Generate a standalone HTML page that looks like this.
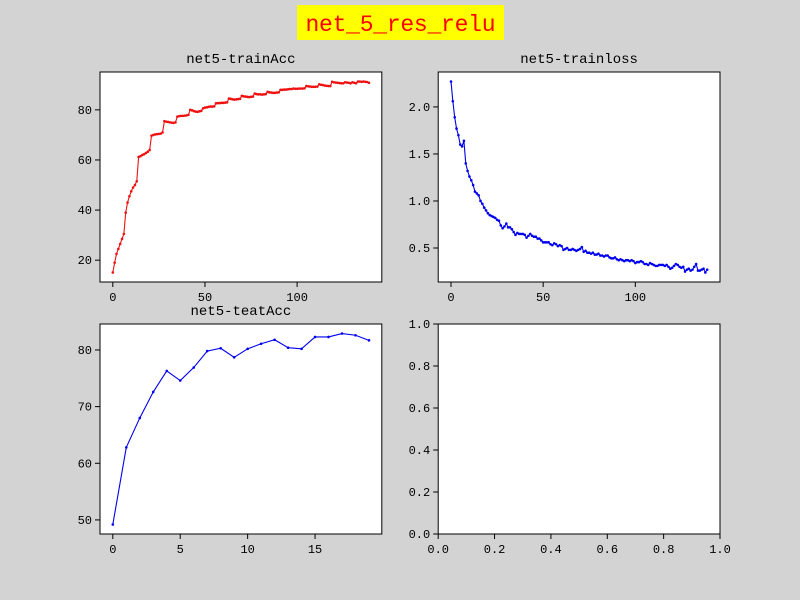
<!DOCTYPE html>
<html><head><meta charset="utf-8"><style>
html,body{margin:0;padding:0;background:#d3d3d3;width:800px;height:600px;overflow:hidden;}
svg{display:block;}
svg text{font-family:"Liberation Mono","Noto Sans CJK SC",monospace;}
</style></head><body>
<svg id="fig" width="800" height="600" xmlns="http://www.w3.org/2000/svg">
<rect x="0" y="0" width="800" height="600" fill="#d3d3d3"/>
<rect x="297" y="5" width="207" height="35" fill="#ffff00"/>
<text x="400.5" y="31" text-anchor="middle" font-size="23" fill="#ff0000" textLength="190">net_5_res_relu</text>
</svg>
<script>
const trainAcc = [15.1,19,22.5,24.5,26.5,28.5,30.5,
39,43,45.5,47.5,49,50,51.5,
61.2,61.5,62,62.3,62.8,63.3,64,
69.7,70,70.2,70.3,70.4,70.5,71,
75.5,75.3,75.2,75,74.9,74.8,75,
77.3,77.5,77.6,77.6,77.7,77.8,78,
80,79.8,79.5,79.3,79.2,79.4,79.6,
80.6,80.9,81,81.2,81.3,81.3,81.4,
82.6,82.7,82.7,82.8,82.8,82.9,83,
84.5,84.4,84.2,84.1,84.2,84.3,84.4,
85.6,85.4,85.3,85.2,85.1,85.2,85.3,
86.5,86.3,86.2,86.2,86.1,86.2,86.3,
87.2,87,86.9,86.8,86.8,86.9,87,
88,88,88.1,88.1,88.2,88.3,88.3,
88.5,88.4,88.4,88.5,88.5,88.5,88.6,
89.5,89.4,89.3,89.2,89.2,89.2,89.3,
90.2,90,89.9,89.7,89.6,89.5,89.5,
91.2,91,90.9,90.8,90.7,90.6,90.6,
91,90.9,90.8,90.6,91,90.8,90.6,
91.3,91.3,91.2,91.3,91.2,91.1,90.8];
const trainLoss = [2.27,2.06,1.89,1.77,1.70,1.60,1.58,1.64,1.40,1.32,
1.26,1.22,1.17,1.10,1.08,1.06,1.0,0.97,0.93,0.90,
0.87,0.85,0.84,0.83,0.82,0.80,0.79,0.74,0.71,0.73,
0.76,0.72,0.72,0.70,0.67,0.64,0.66,0.65,0.65,0.65,
0.64,0.61,0.63,0.65,0.63,0.62,0.62,0.60,0.60,0.58,
0.56,0.56,0.56,0.56,0.54,0.53,0.55,0.54,0.52,0.53,
0.52,0.48,0.49,0.50,0.48,0.48,0.49,0.48,0.47,0.48,
0.49,0.51,0.46,0.47,0.45,0.45,0.44,0.45,0.43,0.43,
0.44,0.42,0.42,0.41,0.42,0.42,0.40,0.39,0.39,0.40,
0.38,0.37,0.38,0.37,0.36,0.37,0.37,0.36,0.37,0.36,
0.34,0.35,0.35,0.36,0.35,0.33,0.33,0.32,0.34,0.33,
0.32,0.31,0.31,0.32,0.32,0.32,0.31,0.32,0.30,0.28,
0.29,0.31,0.33,0.32,0.30,0.29,0.30,0.25,0.27,0.28,
0.26,0.27,0.30,0.33,0.26,0.26,0.27,0.28,0.24,0.27];
const testAcc = [49.2,62.8,68,72.6,76.3,74.6,76.9,79.8,80.3,78.7,80.2,81.1,81.8,80.4,80.2,82.3,82.3,82.9,82.6,81.7];
const accXTicks = [0,50,100];
const accYTicks = [20,40,60,80];
const lossXTicks = [0,50,100];
const lossYTicks = [0.5,1.0,1.5,2.0];
const lossYLabels = ["0.5","1.0","1.5","2.0"];
const testXTicks = [0,5,10,15];
const testYTicks = [50,60,70,80];
const emptyTicks = [0,0.2,0.4,0.6,0.8,1.0];
const emptyLabels = ["0.0","0.2","0.4","0.6","0.8","1.0"];

const NS = "http://www.w3.org/2000/svg";
const fig = document.getElementById('fig');
function mk(tag, attrs, parent){
  const e = document.createElementNS(NS, tag);
  for (const k in attrs) e.setAttribute(k, attrs[k]);
  (parent||fig).appendChild(e);
  return e;
}
function panel(name, L, T, W, H, ys, color, xt, xl, yt, yl, title, fixed){
  const g = mk('g', {});
  
  
  const bg = mk('rect', {x:L, y:T, width:W, height:H, fill:'#fff'}, g);
  
  
  let x0, x1, y0, y1;
  if (fixed) { x0=0; x1=1; y0=0; y1=1; }
  else {
    const n = ys.length - 1;
    x0 = -0.05*n; x1 = n + 0.05*n;
    const mn = Math.min(...ys), mx = Math.max(...ys), r = mx - mn;
    y0 = mn - 0.05*r; y1 = mx + 0.05*r;
  }
  const sx = v => L + (v - x0) / (x1 - x0) * W;
  const sy = v => T + H - (v - y0) / (y1 - y0) * H;
  if (ys) {
    const d = ys.map((v,i)=>(i?'L':'M')+sx(i).toFixed(2)+','+sy(v).toFixed(2)).join(' ');
    const ln = mk('path', {d:d, fill:'none', stroke:color, 'stroke-width':1.1}, g);
    
    
    ys.forEach((v,i)=>{
      const c = mk('circle', {cx:sx(i), cy:sy(v), r:1.3, fill:color}, g);
      
      
    });
  }
  const fr = mk('rect', {x:L, y:T, width:W, height:H, fill:'none', stroke:'#000', 'stroke-width':1}, g);
  
  
  xt.forEach((v,i)=>{
    const X = sx(v);
    const tk = mk('line', {x1:X, x2:X, y1:T+H, y2:T+H+5, stroke:'#000', 'stroke-width':1}, g);
    
    
    const t = mk('text', {x:X, y:T+H+19, 'text-anchor':'middle', 'font-size':12, fill:'#000'}, g);
    t.textContent = xl ? xl[i] : String(v);
    
    
  });
  yt.forEach((v,i)=>{
    const Y = sy(v);
    const tk = mk('line', {x1:L-5, x2:L, y1:Y, y2:Y, stroke:'#000', 'stroke-width':1}, g);
    
    
    const t = mk('text', {x:L-8, y:Y+4, 'text-anchor':'end', 'font-size':12, fill:'#000'}, g);
    t.textContent = yl ? yl[i] : String(v);
    
    
  });
  if (title) {
    const t = mk('text', {x:L+W/2, y:T-9, 'text-anchor':'middle', 'font-size':14, fill:'#000'}, g);
    t.textContent = title;
    
    
  }
}
panel('train-acc-chart', 100, 72, 281.8, 210, trainAcc, '#ee1111', accXTicks, null, accYTicks, null, 'net5-trainAcc', false);
panel('train-loss-chart', 438.2, 72, 281.8, 210, trainLoss, '#0000ee', lossXTicks, null, lossYTicks, lossYLabels, 'net5-trainloss', false);
panel('test-acc-chart', 100, 324, 281.8, 210, testAcc, '#0000ee', testXTicks, null, testYTicks, null, 'net5-teatAcc', false);
panel('empty-chart', 438.2, 324, 281.8, 210, null, '#000', emptyTicks, emptyLabels, emptyTicks, emptyLabels, null, true);
</script>
</body></html>
